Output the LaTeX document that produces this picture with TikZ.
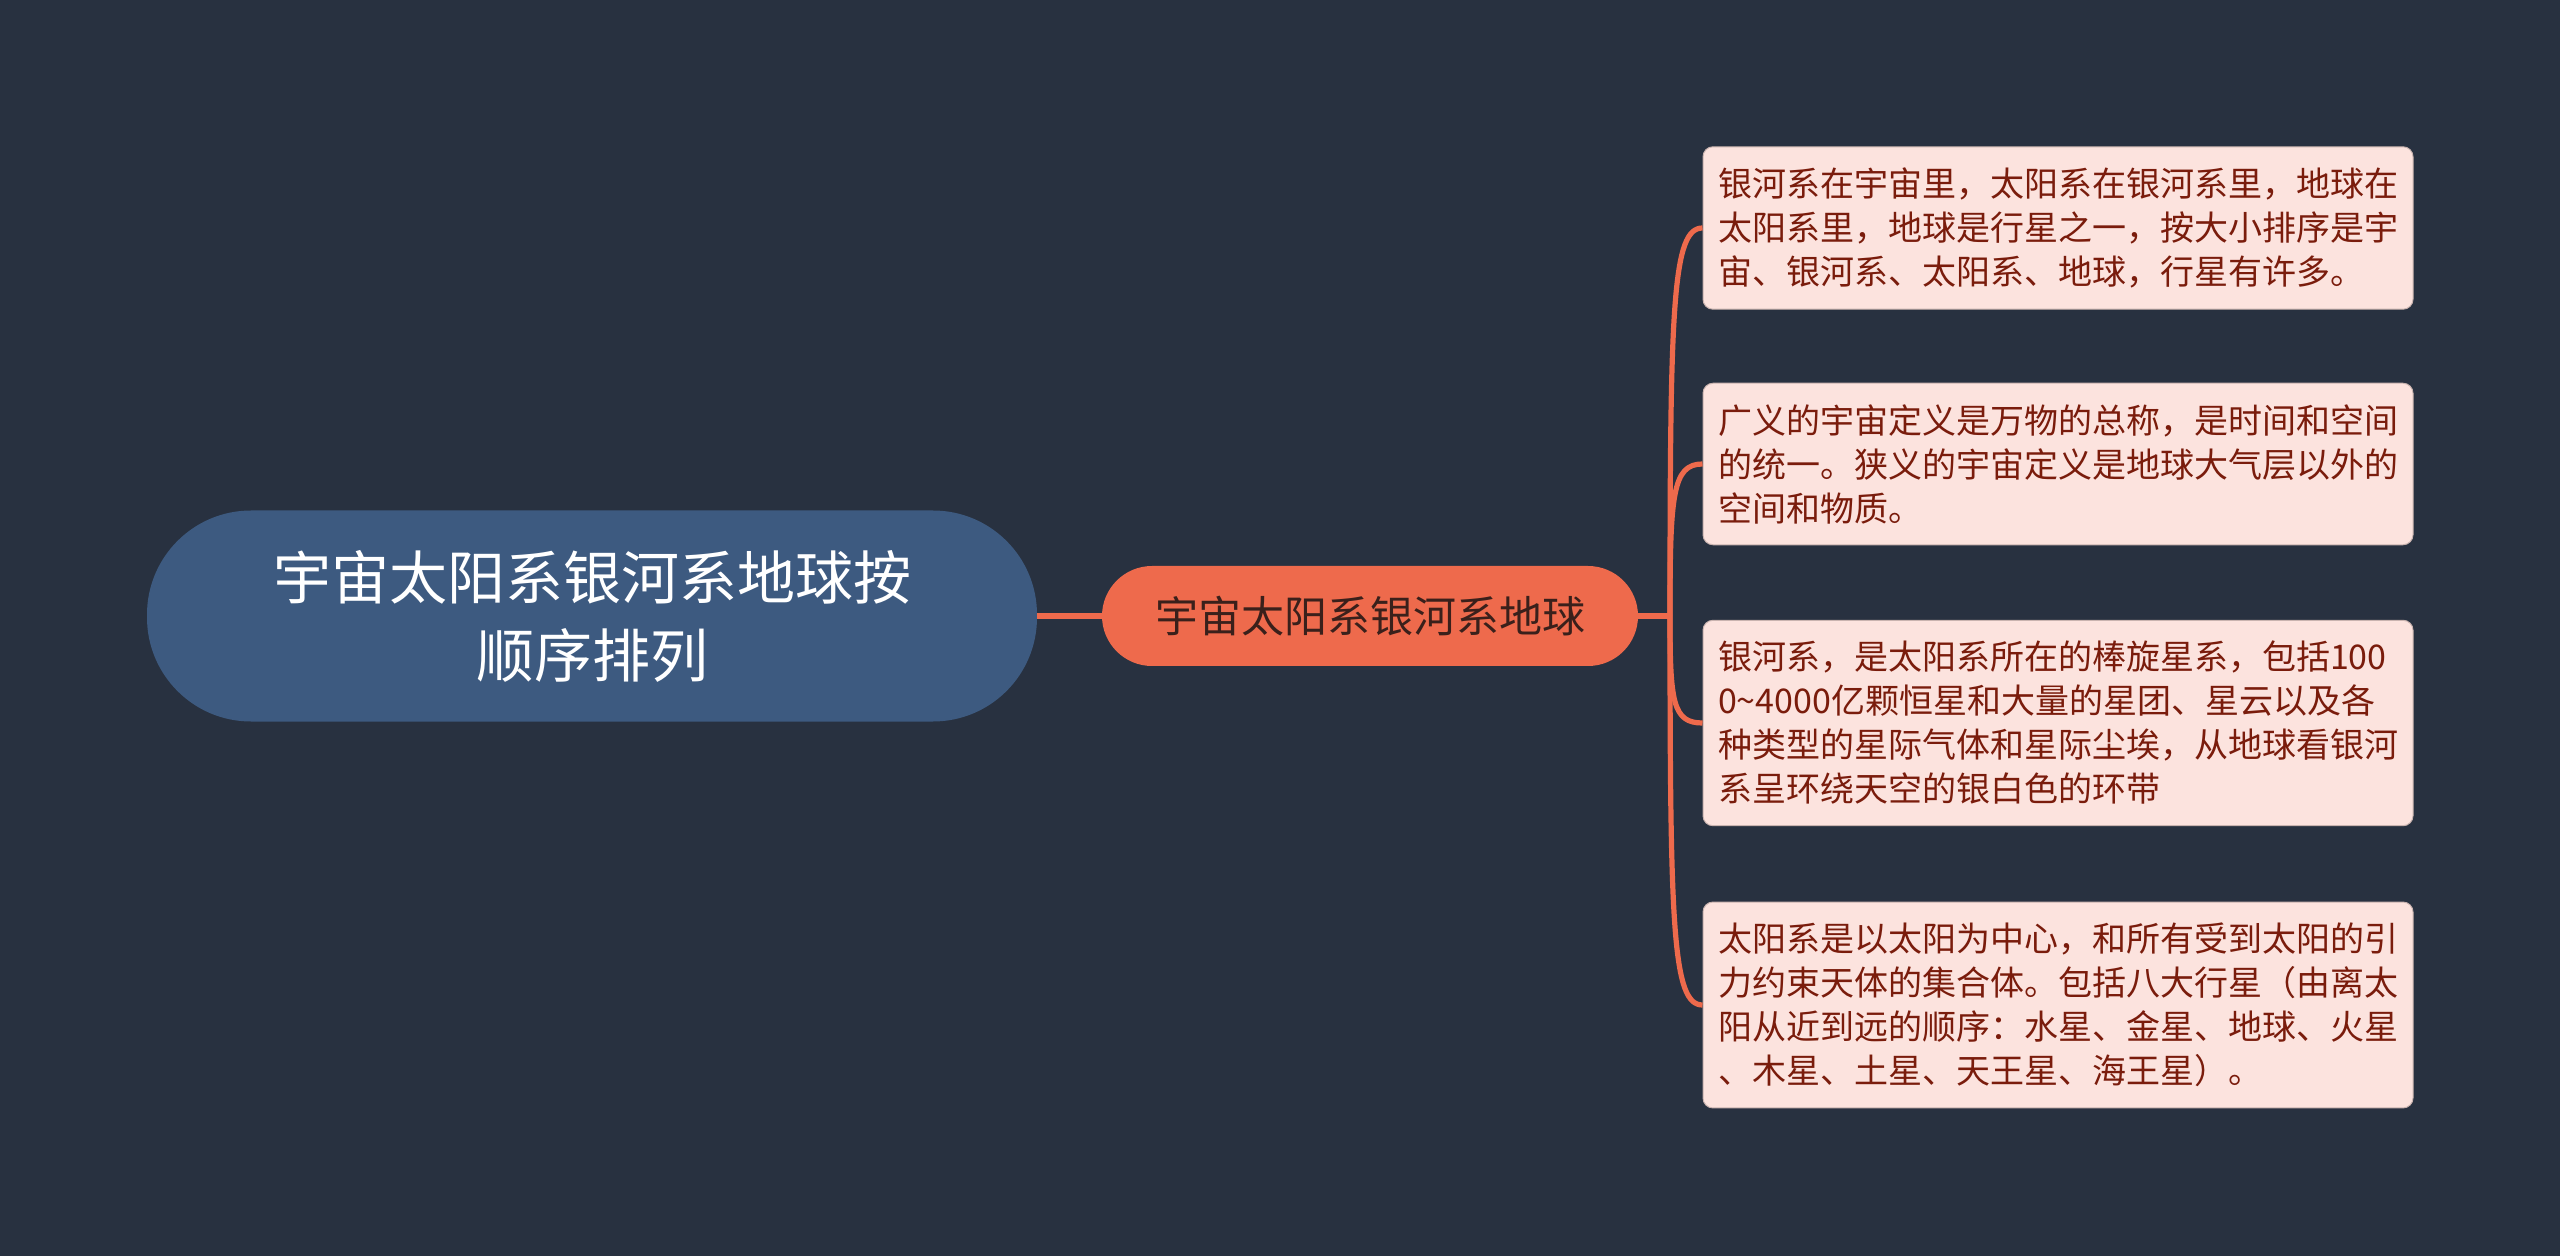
\documentclass[tikz,border=0pt]{standalone}
\usepackage{fontspec}
\setmainfont{Noto Sans CJK SC}
\usepackage{xcolor}
\usepackage{tikz}
\usetikzlibrary{calc}
\definecolor{bg}{HTML}{283140}
\definecolor{rootblue}{HTML}{3D5A80}
\definecolor{coral}{HTML}{EE6A4C}
\definecolor{midtext}{HTML}{3A201B}
\definecolor{leafpink}{HTML}{FCE3DE}
\definecolor{leafedge}{HTML}{C9B3AF}
\definecolor{leaftext}{HTML}{7A1C0C}
\tikzset{
rootnode/.style={fill=rootblue,text=white,rounded corners=52pt,minimum width=445pt,minimum height=105.5pt,align=center,font=\fontsize{29}{39}\selectfont},
midnode/.style={fill=coral,text=midtext,rounded corners=25pt,minimum width=268pt,minimum height=50pt,font=\fontsize{21.5}{26}\selectfont},
leafnode/.style={fill=leafpink,draw=leafedge,line width=0.5pt,text=leaftext,rounded corners=5pt,text width=340pt,inner xsep=7.5pt,inner ysep=10.5pt,align=left,font=\fontsize{17}{22}\selectfont},
branch/.style={coral,line width=2.6pt}
}

\begin{document}
\begin{tikzpicture}[x=0.5pt,y=-0.5pt]
\fill[bg](0,0)rectangle(2560,1256);
\node[rootnode](root)at(592,616){宇宙太阳系银河系地球按\\顺序排列};
\node[midnode](mid)at(1370,616){宇宙太阳系银河系地球};
\node[leafnode](l1)at(2058,228){银河系在宇宙里，太阳系在银河系里，地球在\\太阳系里，地球是行星之一，按大小排序是宇\\宙、银河系、太阳系、地球，行星有许多。};
\node[leafnode](l2)at(2058,464){广义的宇宙定义是万物的总称，是时间和空间\\的统一。狭义的宇宙定义是地球大气层以外的\\空间和物质。};
\node[leafnode](l3)at(2058,723){银河系，是太阳系所在的棒旋星系，包括100\\0\textasciitilde4000亿颗恒星和大量的星团、星云以及各\\种类型的星际气体和星际尘埃，从地球看银河\\系呈环绕天空的银白色的环带};
\node[leafnode](l4)at(2058,1005){太阳系是以太阳为中心，和所有受到太阳的引\\力约束天体的集合体。包括八大行星（由离太\\阳从近到远的顺序：水星、金星、地球、火星\\、木星、土星、天王星、海王星）。};
\coordinate(fork)at(1670,616);
\draw[branch](root.east)--(mid.west);
\draw[branch](mid.east)--(fork);
\foreach \n in {l1,l2,l3,l4}
\draw[branch](fork)..controls($(fork|-\n.west)!0.2!(fork)$)and($(\n.west)+(-30,0)$)..(\n.west);
\end{tikzpicture}
\end{document}
